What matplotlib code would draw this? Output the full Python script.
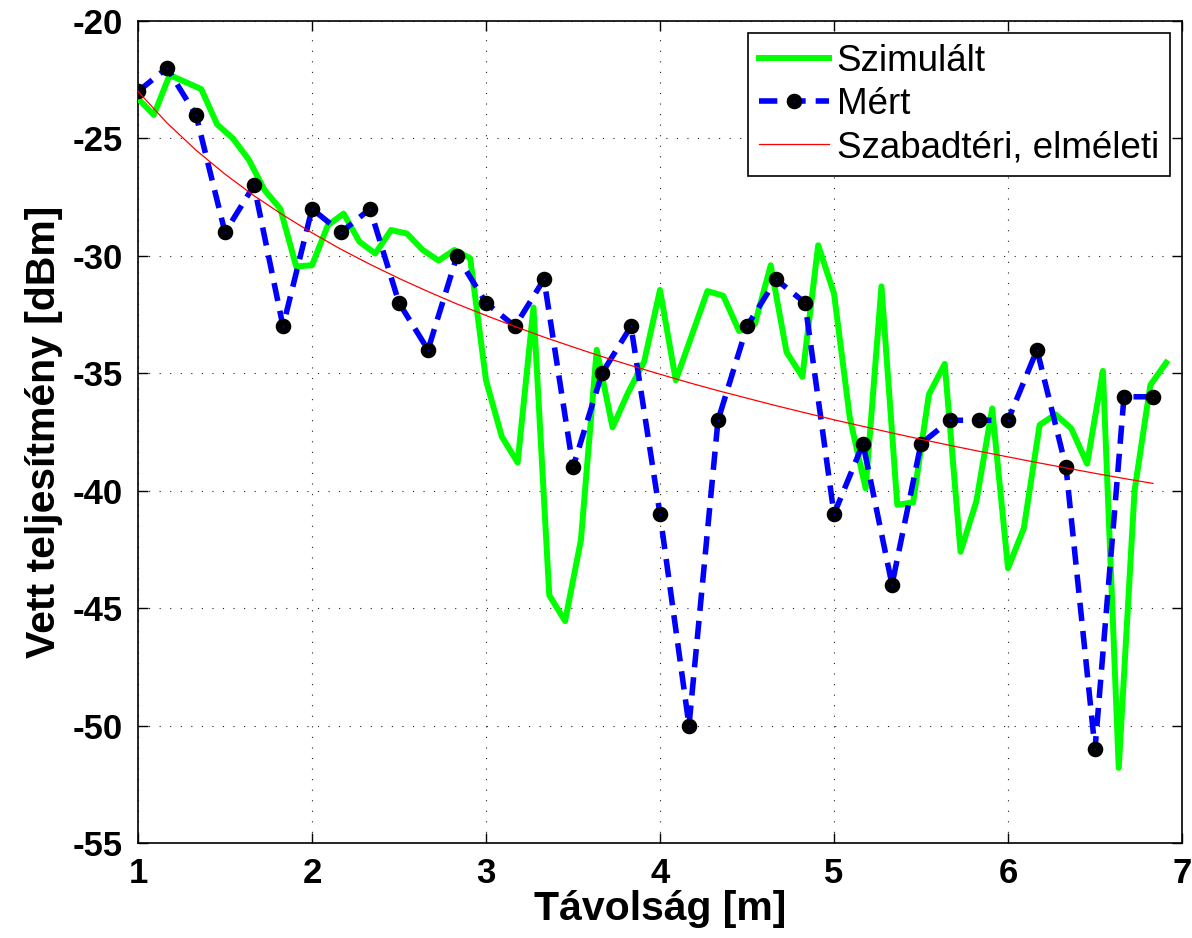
import numpy as np
import matplotlib
matplotlib.use("Agg")
import matplotlib.pyplot as plt

plt.rcParams['font.family'] = ['Liberation Sans', 'DejaVu Sans']

# Simulated (step 1/11 m)
sim_x = 1 + np.arange(66) / 11.0
sim_y = [-23.3, -24.0, -22.3, -22.6, -22.9, -24.4, -25.0, -25.9, -27.2, -28.0,
         -30.45, -30.4, -28.7, -28.2, -29.4, -29.9, -28.9, -29.05, -29.75, -30.2,
         -29.75, -30.1, -35.3, -37.7, -38.8, -32.2, -44.45, -45.55, -42.1, -34.0,
         -37.3, -35.8, -34.5, -31.45, -35.3, -33.4, -31.5, -31.7, -33.2, -32.9,
         -30.4, -34.1, -35.15, -29.55, -31.6, -36.9, -39.9, -31.3, -40.6, -40.5,
         -35.9, -34.6, -42.6, -40.45, -36.5, -43.3, -41.6, -37.2, -36.75, -37.35,
         -38.85, -34.9, -51.8, -40.0, -35.5, -34.55]

# Measured (step 1/6 m)
meas_x = 1 + np.arange(36) / 6.0
meas_y = [-23, -22, -24, -29, -27, -33, -28, -29, -28, -32, -34, -30,
          -32, -33, -31, -39, -35, -33, -41, -50, -37, -33, -31, -32,
          -41, -38, -44, -38, -37, -37, -37, -34, -39, -51, -36, -36]

# Free-space theoretical
free_y = [-23.00, -24.34, -25.50, -26.52, -27.44, -28.26, -29.02, -29.72, -30.36,
          -30.96, -31.52, -32.05, -32.54, -33.01, -33.46, -33.88, -34.29, -34.67,
          -35.04, -35.40, -35.74, -36.06, -36.38, -36.68, -36.98, -37.26, -37.54,
          -37.81, -38.07, -38.32, -38.56, -38.80, -39.03, -39.26, -39.48, -39.69]

x_ticks = [1, 2, 3, 4, 5, 6, 7]
y_ticks = [-55, -50, -45, -40, -35, -30, -25, -20]

fig = plt.figure(figsize=(11.92, 9.38), dpi=100)
ax = fig.add_axes([138/1192, 1-843/938, (1182-138)/1192, (843-21)/938])

ax.plot(sim_x, sim_y, color='#00ff00', lw=4.3, label='Szimulált', zorder=3)
ax.plot(meas_x, meas_y, color='#0000ff', lw=4.0, dashes=(3.3, 1.8),
        dash_capstyle='butt', marker='o', ms=6.3, mew=4.9, mec='black',
        mfc='#0000ff', label='Mért', zorder=4)
ax.plot(meas_x, free_y, color='red', lw=0.9, label='Szabadtéri, elméleti', zorder=5)

ax.set_xlim(1, 7)
ax.set_ylim(-55, -20)
ax.set_xticks(x_ticks)
ax.set_yticks(y_ticks)
ax.set_xticklabels([str(t) for t in x_ticks])
ax.set_yticklabels([str(t) for t in y_ticks])
ax.tick_params(direction='in', length=7, width=1, top=True, right=True,
               labelsize=25)
ax.tick_params(axis='y', pad=11)
ax.tick_params(axis='x', pad=10)
for lab in ax.get_xticklabels() + ax.get_yticklabels():
    lab.set_fontweight('bold')
ax.grid(True, color='#222222', linestyle=(0, (1, 8.5)), lw=0.8)
for s in ax.spines.values():
    s.set_linewidth(1.2)

ax.set_xlabel('Távolság [m]', fontsize=29.5, fontweight='bold', labelpad=0)
ax.set_ylabel('Vett teljesítmény [dBm]', fontsize=29.5, fontweight='bold', labelpad=7)

leg = ax.legend(loc='upper right', bbox_to_anchor=(0.9885, 0.9854), borderaxespad=0,
                fontsize=26.5, fancybox=False, edgecolor='black', framealpha=1,
                handlelength=1.9, handletextpad=0.22, labelspacing=0.22,
                borderpad=0.3)
leg.get_frame().set_linewidth(1.2)

fig.savefig('out.png', dpi=100)
